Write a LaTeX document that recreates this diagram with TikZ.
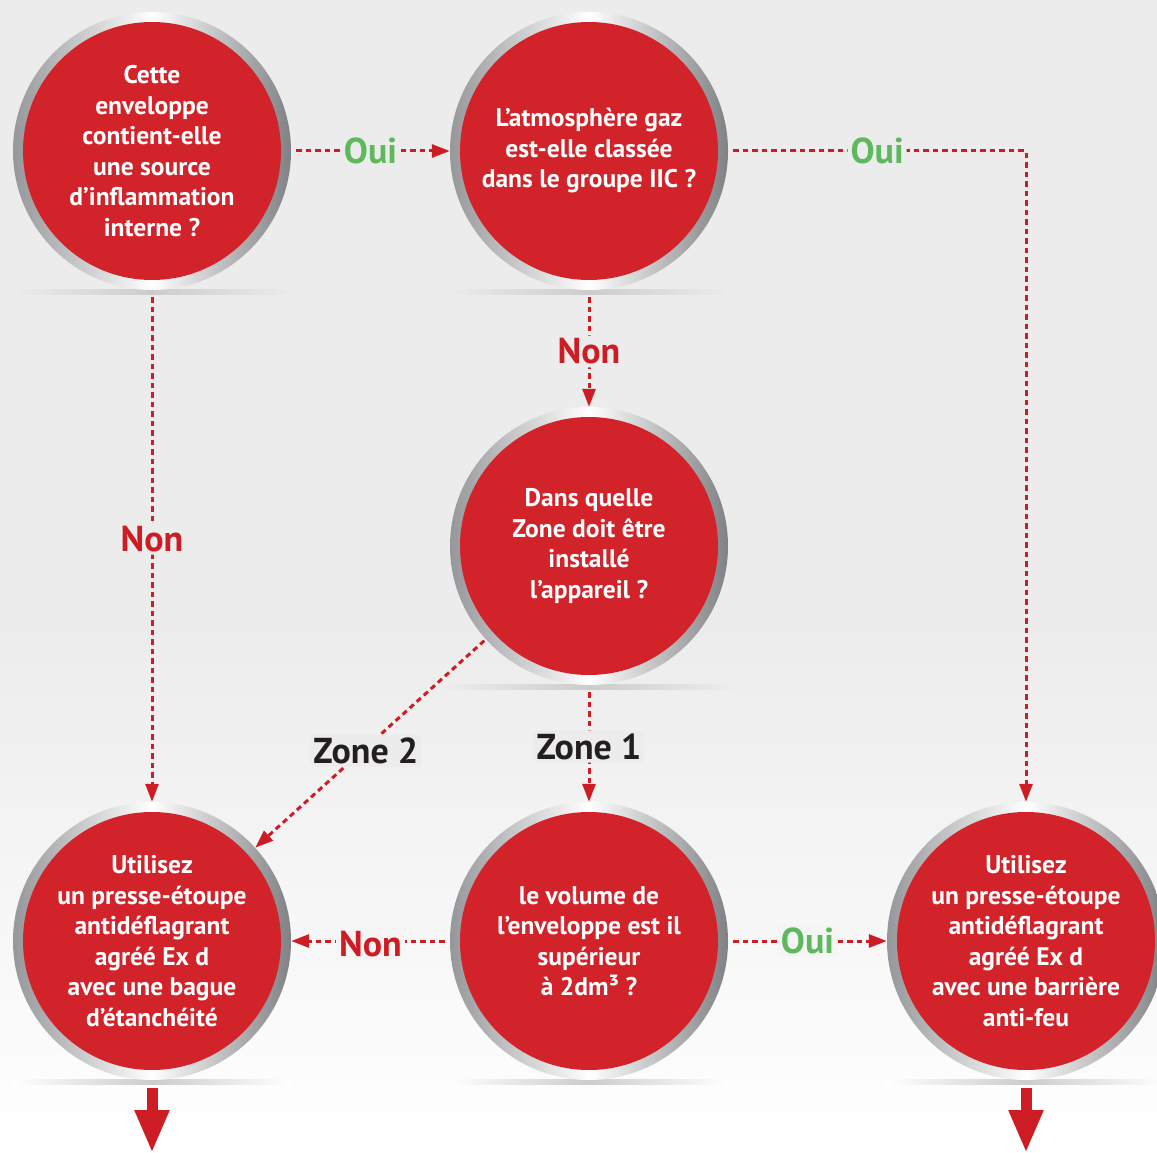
\documentclass[tikz,border=0pt]{standalone}
\usepackage{fontspec}
\setmainfont{PT Sans}
\usetikzlibrary{arrows.meta}
\definecolor{fond}{HTML}{ECECEC}
\definecolor{rouge}{HTML}{D2232A}
\definecolor{trait}{HTML}{CE1C24}
\definecolor{vert}{HTML}{5DB95B}
\definecolor{noir}{HTML}{231F20}
\definecolor{anneauG}{HTML}{96979A}
\definecolor{anneauD}{HTML}{808184}
\tikzset{
  bulle/.style={circle, inner sep=0pt, minimum size=278pt,
    left color=anneauG, right color=anneauD, middle color=white,
    text=white, align=center, font=\bfseries\fontsize{25.5}{30.5}\selectfont,
    path picture={\fill[rouge] (path picture bounding box.center) circle (129pt);}},
  fleche/.style={trait, line width=3pt, dash pattern=on 5.5pt off 4pt,
    -{Triangle[length=18pt,width=13pt]}},
  lbl/.style={fill=fond, inner sep=3pt, rounded corners=4pt,
    font=\bfseries\fontsize{36}{36}\selectfont},
  oui/.style={lbl, text=vert},
  non/.style={lbl, text=trait, yshift=-3pt},
  zonelbl/.style={lbl, text=noir, yshift=-3pt},
  sortie/.style={trait, line width=11pt, -{Triangle[length=43pt,width=32pt]}}
}
\begin{document}
\begin{tikzpicture}[x=1pt, y=-1pt]
\useasboundingbox (0,0) rectangle (1157,1153);
% fond
\fill[fond] (0,0) rectangle (1157,620);
\shade[top color=fond, bottom color=white] (0,620) rectangle (1157,1153);

% ombres
\foreach \cx/\cy/\c in {152/292/fond, 589/292/fond, 589/687/fond, 152/1082/white, 589/1082/white, 1026/1082/white}
{
   \shade[left color=\c, right color=\c, middle color=gray!40] (\cx-140,\cy-2.5) rectangle (\cx+140,\cy+2.5);
}

% questions
\node[bulle] (source) at (152,151) {Cette\\enveloppe\\contient-elle\\une source\\d’inflammation\\interne ?};
\node[bulle] (groupe) at (589,151) {L’atmosphère gaz\\est-elle classée\\dans le groupe IIC ?};
\node[bulle] (zone) at (589,546) {Dans quelle\\Zone doit être\\installé\\l’appareil ?};
\node[bulle] (volume) at (589,941) {le volume de\\l’enveloppe est il\\supérieur\\à 2dm³ ?};

% reponses
\node[bulle] (bague) at (152,941) {Utilisez\\un presse-étoupe\\antidéflagrant\\agréé Ex d\\avec une bague\\d’étanchéité};
\node[bulle] (barriere) at (1026,941) {Utilisez\\un presse-étoupe\\antidéflagrant\\agréé Ex d\\avec une barrière\\anti-feu};

\draw[fleche, shorten <=5pt] (source) -- node[oui]{Oui} (groupe);
\draw[fleche, shorten <=5pt] (groupe.east) -| node[pos=.25, oui]{Oui} (barriere.north);
\draw[fleche, shorten <=7pt] (groupe) -- node[non]{Non} (zone);
\draw[fleche, shorten <=7pt] (source) -- node[pos=.48, non]{Non} (bague);
\draw[fleche, shorten <=2pt] (zone) -- node[pos=.52, zonelbl]{Zone 2} (bague);
\draw[fleche, shorten <=7pt] (zone) -- node[zonelbl]{Zone 1} (volume);
\draw[fleche, shorten <=5pt] (volume) -- node[non, fill=fond!50!white]{Non} (bague);
\draw[fleche, shorten <=5pt] (volume) -- node[oui, fill=fond!50!white]{Oui} (barriere);

\coordinate (finG) at (152,1153);
\coordinate (finD) at (1026,1153);
\draw[sortie, shorten <=8pt] (bague) -- (finG);
\draw[sortie, shorten <=8pt] (barriere) -- (finD);
\end{tikzpicture}
\end{document}
